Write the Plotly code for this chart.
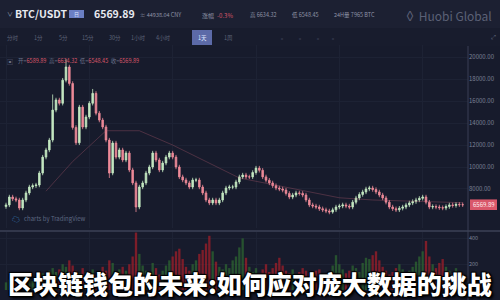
import plotly.graph_objects as go

# ---------------- data ----------------
closes = [
    6550, 7270, 7100, 7000, 6270, 7000, 7640, 8180, 8300, 8360,
    9450, 10900, 11550, 12450, 15180, 16100, 15800, 17900, 19100, 17600,
    13600, 12200, 15450, 13640, 14550, 15800, 16700, 14900, 14270, 13640,
    12450, 9450, 12180, 10900, 11550, 10640, 11270, 9730, 8550, 6360,
    8180, 8550, 9450, 10000, 11270, 10640, 9730, 10360, 10900, 11270,
    10900, 10000, 9100, 8820, 8550, 8180, 8820, 8820, 8180, 7640,
    7000, 6730, 7000, 6730, 7000, 7640, 8090, 8180, 8180, 8640,
    9100, 9270, 9100, 9100, 9500,
    9900, 9700, 9100, 8800, 8550, 8300, 8090, 8000, 7900, 7600,
    7270, 7450, 7640, 7600, 7450, 7000, 6550, 6450, 6360, 6200,
    6100, 6000, 5900, 6100, 6360, 6450, 6550, 6450, 6360, 6800,
    7180, 7500, 7730, 8000, 8090, 7950, 7730, 7450, 7180, 6800,
    6360, 6200, 6100, 6250, 6360, 6550, 6730, 6850, 7000, 7150,
    7270, 6800, 6360, 6400, 6360, 6300, 6270, 6400, 6550, 6500,
    6600, 6570, 6569.89,
]
first_open = 6400
wick = 200
high_spikes = {14: 16600, 18: 19800, 26: 17100}
low_spikes = {39: 5900, 31: 9000, 98: 5750}

volumes = [
    60, 80, 70, 120, 90, 60, 75, 85, 70, 95,
    110, 130, 100, 150, 170, 140, 160, 200, 180, 230,
    190, 150, 130, 170, 140, 120, 160, 110, 140, 180,
    150, 230, 210, 130, 160, 180, 150, 200, 260, 445,
    280, 190, 150, 130, 210, 170, 120, 150, 190, 230,
    260, 300, 320, 240, 180, 150, 200, 230, 280, 310,
    360, 420, 300, 220, 180, 160, 200, 170, 230, 260,
    330, 400, 250, 180, 140, 170, 130, 160, 200, 140,
    170, 210, 250, 190, 150, 130, 160, 120, 140, 170,
    150, 130, 110, 150, 160, 120, 100, 140, 190, 270,
    200, 160, 130, 150, 190, 170, 140, 210, 250, 240,
    270, 300, 230, 180, 150, 120, 140, 170, 200, 160,
    130, 150, 180, 220, 260, 300, 380, 260, 200, 170,
    210, 240, 180, 150, 130, 170, 140, 120,
]
closes = closes[:len(volumes)]

ma_idx = [12, 20, 30, 40, 50, 60, 70, 80, 90, 100, 110, 120, 130, 137]
ma_val = [7800, 10500, 13300, 13300, 12000, 10500, 9000, 8400, 7800, 7200, 7000, 6900, 6800, 6750]

price_ticks = [8000, 10000, 12000, 14000, 16000, 18000, 20000]
vol_ticks = [200, 400]
last_price = 6569.89
title_text = "区块链钱包的未来:如何应对庞大数据的挑战"
intervals = ["分时", "1分", "5分", "15分", "30分", "1小时", "4小时", "1天", "1周"]
active_interval = "1天"

# ---------------- derived ----------------
idx = list(range(len(closes)))
opens = [first_open] + closes[:-1]
highs = [max(o, c) + wick for o, c in zip(opens, closes)]
lows = [min(o, c) - wick for o, c in zip(opens, closes)]
for k, v in high_spikes.items():
    highs[k] = v
for k, v in low_spikes.items():
    lows[k] = v
vol_colors = ["rgba(50,120,50,0.6)" if c >= o else "rgba(170,30,40,0.7)" for o, c in zip(opens, closes)]

BG = "#171b2c"
fig = go.Figure()
fig.add_trace(go.Scatter(x=ma_idx, y=ma_val, mode="lines", line=dict(color="rgba(200,100,120,0.3)", width=1),
                         xaxis="x", yaxis="y", hoverinfo="skip", showlegend=False))
fig.add_trace(go.Candlestick(
    x=idx, open=opens, high=highs, low=lows, close=closes, xaxis="x", yaxis="y",
    increasing=dict(line=dict(color="#c4e8c2", width=0.8), fillcolor="#c4e8c2"),
    decreasing=dict(line=dict(color="#ee8a98", width=0.8), fillcolor="#ee8a98"),
    whiskerwidth=0, showlegend=False))
fig.add_trace(go.Bar(x=idx, y=volumes, marker=dict(color=vol_colors, line=dict(width=0)),
                     xaxis="x2", yaxis="y2", showlegend=False))

XR = [-1.8, 138.6]
fig.update_layout(
    width=500, height=300, margin=dict(l=0, r=0, t=0, b=0),
    paper_bgcolor=BG, plot_bgcolor=BG, bargap=0.3,
    font=dict(family="Noto Sans CJK SC, Noto Sans, sans-serif"),
    xaxis=dict(domain=[0, 0.936], range=XR, showticklabels=False, showgrid=True, gridcolor="#1d2234",
               tick0=0, dtick=25, zeroline=False, rangeslider=dict(visible=False), anchor="y", fixedrange=True),
    xaxis2=dict(domain=[0, 0.936], range=XR, showticklabels=False, showgrid=True, gridcolor="#1d2234",
                tick0=0, dtick=25, zeroline=False, anchor="y2"),
    yaxis=dict(domain=[0.24, 0.85], range=[4450, 21100], side="right", tickvals=price_ticks,
               ticktext=[f"{t:.2f}" for t in price_ticks], tickfont=dict(size=6, color="#7c8196"),
               gridcolor="#1d2234", zeroline=False, ticks="", anchor="x"),
    yaxis2=dict(domain=[0.033, 0.227], range=[0, 450], side="right", tickvals=vol_ticks,
                tickfont=dict(size=5.5, color="#7c8196"), gridcolor="#1d2234", zeroline=False, ticks="", anchor="x2"),
)

def py(p):
    return 1 - p / 300

shapes = [
    dict(type="rect", xref="paper", yref="paper", x0=0, x1=1, y0=py(28), y1=1, fillcolor="#1c2032", line_width=0, layer="below"),
    dict(type="rect", xref="paper", yref="paper", x0=0, x1=1, y0=py(46), y1=py(28), fillcolor="#181c2d", line_width=0, layer="below"),
    dict(type="line", xref="paper", yref="paper", x0=0.936, x1=0.936, y0=0, y1=py(46), line=dict(color="#3a3f54", width=1)),
    dict(type="line", xref="paper", yref="paper", x0=0, x1=1, y0=py(231), y1=py(231), line=dict(color="#3d4256", width=1.5)),
    dict(type="rect", xref="paper", yref="y", x0=0.94, x1=0.994, y0=last_price - 480, y1=last_price + 480,
         fillcolor="#d9576a", line_width=0),
]

ann = []
def txt(x, y, t, size=7, color="#c8ccd8", anchor="left", weight="normal", **kw):
    ann.append(dict(xref="paper", yref="paper", x=x / 500, y=py(y), text=t, showarrow=False,
                    xanchor=anchor, yanchor="middle", font=dict(size=size, color=color, weight=weight), **kw))

# header
txt(5, 14, "∨", 6, "#9aa0b4")
txt(13, 14, "BTC/USDT", 10.5, "#e8eaf0", weight="bold")
shapes.append(dict(type="rect", xref="paper", yref="paper", x0=69/500, x1=84/500, y0=py(18), y1=py(10),
                   fillcolor="#6b7fc4", line_width=0))
txt(76.5, 14, "日", 5, "#dfe5ff", anchor="center")
txt(92, 14, "6569.89", 10.5, "#e8eaf0", weight="bold")
txt(138, 15, "≈ 44938.04 CNY", 5.5, "#8e93a6")
txt(200, 15, "涨幅", 6, "#8e93a6")
txt(215, 15, "-0.3%", 6, "#d9576a")
txt(248, 15, "高 6634.32", 5.5, "#8e93a6")
txt(290, 15, "低 6548.45", 5.5, "#8e93a6")
txt(332, 15, "24H量 7965 BTC", 5.5, "#8e93a6")
txt(494, 15, "◊ Huobi Global", 12, "#5b6076", anchor="right")

# toolbar
tool_x = [13, 38, 63, 88, 115, 138, 163, 202, 228]
for tx, lab in zip(tool_x, intervals):
    if lab == active_interval:
        shapes.append(dict(type="rect", xref="paper", yref="paper", x0=(tx - 10)/500, x1=(tx + 10)/500,
                           y0=py(45), y1=py(30), fillcolor="#5c6aa8", line_width=0))
        txt(tx, 38, lab, 5.5, "#dfe4ff", anchor="center")
    else:
        txt(tx, 38, lab, 5.5, "#5d6378", anchor="center")
for ix in [282, 300, 318, 333]:
    txt(ix, 38, "▫", 6, "#4d5368", anchor="center")
txt(493, 37, "⤢", 6, "#6a7088", anchor="center")

# OHLC legend
txt(5, 61, "▣", 6, "#6a7088")
txt(16, 61, "开=<span style='color:#d9576a'>6589.89</span>  高=<span style='color:#d9576a'>6634.32</span>  低=<span style='color:#d9576a'>6548.45</span>  收=<span style='color:#d9576a'>6569.89</span>", 5.5, "#6a7088")

# price tag
ann.append(dict(xref="paper", yref="y", x=0.967, y=last_price, text=f"{last_price:.2f}", showarrow=False,
                xanchor="center", yanchor="middle", font=dict(size=6, color="#ffe9ec")))

# watermark
txt(10, 218, "☁", 8, "#3d86c6")
txt(22, 218, "charts by TradingView", 6, "#5d6882")

# title overlay
ann.append(dict(xref="paper", yref="paper", x=0.5, y=py(283), text=title_text, showarrow=False,
                xanchor="center", yanchor="middle",
                font=dict(size=25, color="#ffffff", weight=900, family="Noto Sans CJK SC",
                          shadow="1px 1px 1px #000, -1px -1px 1px #000, 1px -1px 1px #000, -1px 1px 1px #000, 2px 2px 3px #000")))

fig.update_layout(shapes=shapes, annotations=ann)
fig.write_html("out.html")
